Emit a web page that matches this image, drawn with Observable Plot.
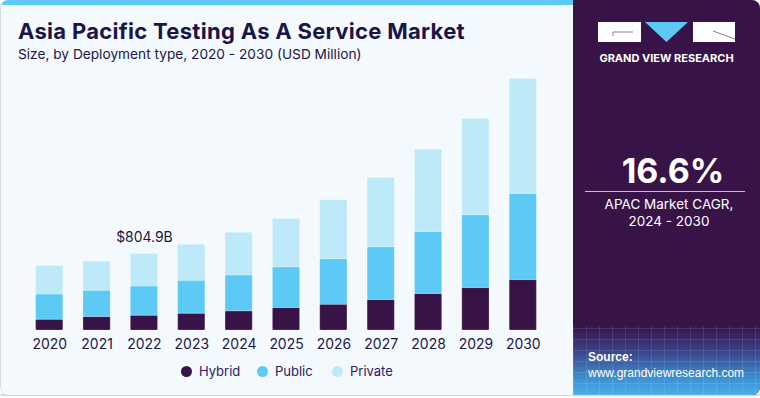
<!DOCTYPE html>
<html>
<head>
<meta charset="utf-8">
<script src="https://cdn.jsdelivr.net/npm/d3@7"></script>
<script src="https://cdn.jsdelivr.net/npm/@observablehq/plot@0.6"></script>
<style>
  html, body { margin: 0; padding: 0; background: #ffffff; }
  body { width: 760px; height: 398px; overflow: hidden; font-family: Inter, "Noto Sans", sans-serif; }
  #wrap { position: relative; width: 760px; height: 398px; }
  #bottomline { position: absolute; left: 0; top: 394px; width: 760px; height: 2px; background: #d4d6da; border-radius: 0 0 6px 6px; }
  #left { position: absolute; left: 0; top: 0; width: 573px; height: 395px; background: #f4f9fd;
          border-left: 1px solid #d9dde2; border-radius: 8px 0 0 8px; box-sizing: border-box; overflow: hidden; }
  #stripe { position: absolute; left: 0; top: 0; width: 573px; height: 5px; background: #5ccaf5; }
  #title { position: absolute; left: 17px; top: 18px; font-size: 22px; font-weight: 700; color: #1b1547; white-space: nowrap; letter-spacing: 0.3px; }
  #subtitle { position: absolute; left: 17px; top: 46px; font-size: 13.7px; color: #1b1547; white-space: nowrap; }
  #chart { position: absolute; left: -1px; top: 70px; }
  #legend { position: absolute; left: 0; top: 362px; width: 573px; height: 18px; font-size: 13px; color: #2a2060; }
  .li { position: absolute; top: 0; line-height: 18px; white-space: nowrap; }
  .dot { position: absolute; width: 11px; height: 11px; border-radius: 50%; top: 4px; }
  #right { position: absolute; left: 573px; top: 0; width: 187px; height: 395px; background: #381347; border-radius: 0 8px 8px 0; overflow: hidden; }
  #brand { position: absolute; left: 0; top: 51px; width: 187px; text-align: center; font-size: 11px; font-weight: 700; color: #ffffff; letter-spacing: 0px; }
  #cagr { position: absolute; left: 0; top: 150px; width: 200px; text-align: center; font-size: 34px; font-weight: 700; color: #ffffff; }
  #rule { position: absolute; left: 12px; top: 191px; width: 160px; height: 1px; background: #c8b9d0; }
  #cagrtxt { position: absolute; left: 0; top: 196px; width: 192px; text-align: center; font-size: 13.5px; color: #ffffff; line-height: 16.5px; }
  #source { position: absolute; left: 0; top: 326px; width: 187px; height: 69px;
            background:
              repeating-linear-gradient(90deg, rgba(255,255,255,0.10) 0 1px, transparent 1px 13px),
              repeating-linear-gradient(0deg, rgba(255,255,255,0.10) 0 1px, transparent 1px 11px),
              linear-gradient(180deg, #381347 0%, #3b3f86 35%, #3d8fd0 75%, #4aaee6 100%); }
  #srctxt { position: absolute; left: 15px; top: 349px; font-size: 12px; color: #ffffff; line-height: 16px; font-family: "Liberation Sans", Arial, sans-serif; }
</style>
</head>
<body>
<div id="wrap">
  <div id="bottomline"></div>
  <div id="left">
    <div id="stripe"></div>
    <div id="title">Asia Pacific Testing As A Service Market</div>
    <div id="subtitle">Size, by Deployment type, 2020 - 2030 (USD Million)</div>
    <div id="chart"></div>
    <div id="legend"></div>
  </div>
  <div id="right">
    <svg style="position:absolute;left:0;top:0" width="187" height="50">
      <rect x="25" y="22" width="43" height="20" fill="#ffffff"/>
      <path d="M 40 32 L 40 36 M 40 32 L 60 32" stroke="#8a7d95" stroke-width="1" fill="none"/>
      <polygon points="72,22 115,22 93.5,42" fill="#5ccaf5"/>
      <rect x="120" y="22" width="42" height="20" fill="#ffffff"/>
      <path d="M 140 31 L 162 39" stroke="#8a7d95" stroke-width="1" fill="none"/>
    </svg>
    <div id="brand">GRAND VIEW RESEARCH</div>
    <div id="cagr">16.6%</div>
    <div id="rule"></div>
    <div id="cagrtxt">APAC Market CAGR,<br>2024 - 2030</div>
    <div id="source"></div>
    <div id="srctxt"><b>Source:</b><br>www.grandviewresearch.com</div>
  </div>
</div>
<script>
const years = ["2020","2021","2022","2023","2024","2025","2026","2027","2028","2029","2030"];
const seriesNames = ["Hybrid","Public","Private"];
const hybrid  = [115, 143, 157, 178, 202, 237, 272, 321, 384, 446, 530];
const publicV = [264, 275, 306, 345, 376, 428, 478, 554, 651, 766, 905];
const privateV = [300, 306, 341.9, 379, 449, 508, 620, 727, 864, 1011, 1208];
const colors = ["#381347", "#5ccaf5", "#bde9f9"];
const labelYear = "2022";
const labelText = "$804.9B";

const values = [hybrid, publicV, privateV];
const rows = [];
seriesNames.forEach((s, si) => years.forEach((y, i) => rows.push({year: y, series: s, value: values[si][i]})));
const li = years.indexOf(labelYear);
const labelRows = [{year: labelYear, total: hybrid[li] + publicV[li] + privateV[li], text: labelText}];

const chart = Plot.plot({
  width: 575,
  height: 300,
  marginLeft: 12,
  marginRight: 13,
  marginTop: 3,
  marginBottom: 39,
  style: {background: "transparent", fontFamily: "Inter, sans-serif", overflow: "visible"},
  x: {domain: years, padding: 0.426, paddingOuter: 0.5, round: false, label: null},
  y: {domain: [0, 2700], axis: null},
  color: {domain: seriesNames, range: colors},
  marks: [
    Plot.barY(rows, {x: "year", y: "value", fill: "series", order: seriesNames, rx: 1, stroke: "#ffffff", strokeOpacity: 0.25, strokeWidth: 0.8}),
    Plot.text(labelRows, {x: "year", y: "total", text: "text", dy: -16, fontSize: 14, fill: "#1b1547"}),
    Plot.axisX({tickSize: 0, tickPadding: 9, fontSize: 14, fill: "#1b1547", label: null})
  ]
});
document.getElementById("chart").appendChild(chart);

const legend = document.getElementById("legend");
const legendX = [180, 256, 331];
seriesNames.forEach((s, i) => {
  const d = document.createElement("div");
  d.className = "li";
  d.style.left = legendX[i] + "px";
  d.innerHTML = `<span class="dot" style="left:0;background:${colors[i]}"></span><span style="margin-left:18px">${s}</span>`;
  legend.appendChild(d);
});
</script>
</body>
</html>
